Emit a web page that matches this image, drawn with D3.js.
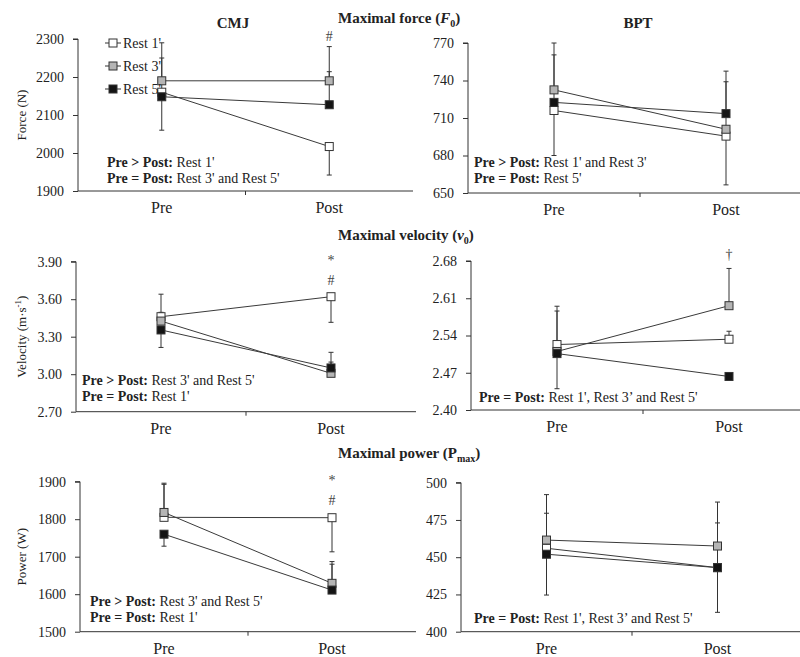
<!doctype html>
<html>
  <head>
    <meta charset="utf-8">
    <title>Force, velocity and power – CMJ and BPT</title>
    <script src="https://cdnjs.cloudflare.com/ajax/libs/d3/7.8.5/d3.min.js"></script>
    <style>
      body { margin: 0; background: #fff; }
      svg text { font-family: "Liberation Serif", "Times New Roman", serif; fill: #222; }
    </style>
  </head>
  <body>
    <div id="chart"></div>
    <script>
      // == data ==
      const phases = ["Pre", "Post"];
      const groups = ["Rest 1'", "Rest 3'", "Rest 5'"];

      // rows = Rest 1', Rest 3', Rest 5' ; columns = Pre, Post
      const forceCmj = [[2160, 2017], [2190, 2190], [2148, 2127]];
      const forceCmjErr = [[90, -75], [100, 90], [-88, 87]];   // sign = direction of the bar
      const forceBpt = [[716, 695.5], [732.5, 701], [722.5, 713.5]];
      const forceBptErr = [[-36, -39], [37.5, 38], [38, 34]];

      const velCmj = [[3.46, 3.62], [3.425, 3.007], [3.354, 3.05]];
      const velCmjErr = [[0.18, -0.205], [0.07, 0.09], [-0.14, 0.125]];
      const velBpt = [[2.523, 2.533], [2.51, 2.596], [2.506, 2.463]];
      const velBptErr = [[0.072, 0.015], [0.076, 0.07], [-0.066, -0.007]];

      const powCmj = [[1805, 1804], [1818, 1629], [1760, 1611]];
      const powCmjErr = [[88, -91], [78, 58], [-32, 69]];
      const powBpt = [[456, 443], [461.5, 457.5], [452, 443]];
      const powBptErr = [[23.5, 30], [30.5, 29.5], [-27.4, -30]];

      const forceCmjTicks = [1900, 2000, 2100, 2200, 2300];
      const forceBptTicks = [650, 680, 710, 740, 770];
      const velCmjTicks = [2.70, 3.00, 3.30, 3.60, 3.90];
      const velBptTicks = [2.40, 2.47, 2.54, 2.61, 2.68];
      const powCmjTicks = [1500, 1600, 1700, 1800, 1900];
      const powBptTicks = [400, 425, 450, 475, 500];

      const notesA = [["Pre > Post:", " Rest 1'"], ["Pre = Post:", " Rest 3' and Rest 5'"]];
      const notesB = [["Pre > Post:", " Rest 1' and Rest 3'"], ["Pre = Post:", " Rest 5'"]];
      const notesC = [["Pre > Post:", " Rest 3' and Rest 5'"], ["Pre = Post:", " Rest 1'"]];
      const notesD = [["Pre = Post:", " Rest 1', Rest 3\u2019 and Rest 5'"]];

      // significance symbols: [phase, symbol, value at baseline]
      const forceCmjSig = [["Post", "#", 2296]];
      const velCmjSig = [["Post", "*", 3.875], ["Post", "#", 3.71]];
      const velBptSig = [["Post", "\u2020", 2.684]];
      const powCmjSig = [["Post", "*", 1890], ["Post", "#", 1838]];

      // == drawing ==
      const fills = ["#ffffff", "#b5b5b5", "#141414"];
      const svg = d3.select("#chart").append("svg")
        .attr("width", 800).attr("height", 657);

      function panel(o) {
        const g = svg.append("g");
        const x = d3.scalePoint().domain(phases).range([o.x0, o.x1]).padding(0.5);
        const y = d3.scaleLinear().domain([o.ticks[0], o.ticks[o.ticks.length - 1]]).range([o.y0, o.y1]);

        // y axis
        const ya = g.append("g").attr("transform", `translate(${o.x0},0)`)
          .call(d3.axisLeft(y).tickValues(o.ticks).tickSize(5).tickPadding(9).tickFormat(o.fmt));
        ya.attr("font-family", null);
        ya.select(".domain").attr("stroke", "#333").attr("d", `M-5,${o.y1}H0V${o.y0}`);
        ya.selectAll(".tick line").attr("stroke", "#333");
        ya.selectAll(".tick text").style("font-size", "14px").attr("fill", "#222");

        // x axis: a line with a tick between the two phases
        g.append("line").attr("x1", o.x0).attr("x2", o.x1).attr("y1", o.y0).attr("y2", o.y0)
          .attr("stroke", "#333");
        g.append("line").attr("x1", (o.x0 + o.x1) / 2).attr("x2", (o.x0 + o.x1) / 2)
          .attr("y1", o.y0).attr("y2", o.y0 + 4).attr("stroke", "#333");
        g.selectAll(".cat").data(phases).join("text")
          .attr("x", d => x(d)).attr("y", o.y0 + 22)
          .attr("text-anchor", "middle").style("font-size", "16px").text(d => d);

        // error bars
        o.vals.forEach((row, si) => {
          row.forEach((v, pi) => {
            const e = o.err[si][pi];
            const px = x(phases[pi]);
            g.append("line").attr("x1", px).attr("x2", px)
              .attr("y1", y(v)).attr("y2", y(v + e)).attr("stroke", "#333");
            g.append("line").attr("x1", px - 2.5).attr("x2", px + 2.5)
              .attr("y1", y(v + e)).attr("y2", y(v + e)).attr("stroke", "#333");
          });
        });

        // lines
        const line = d3.line().x((d, i) => x(phases[i])).y(d => y(d));
        g.selectAll(".ln").data(o.vals).join("path")
          .attr("d", line).attr("fill", "none").attr("stroke", "#3a3a3a").attr("stroke-width", 1);

        // markers
        o.vals.forEach((row, si) => {
          g.selectAll(".m" + si).data(row).join("rect")
            .attr("x", (d, i) => x(phases[i]) - 4).attr("y", d => y(d) - 4)
            .attr("width", 8).attr("height", 8)
            .attr("fill", fills[si]).attr("stroke", "#333").attr("stroke-width", 1);
        });

        // notes
        o.notes.forEach((n, i) => {
          const t = g.append("text").attr("x", o.nx).attr("y", o.ny + i * 16).style("font-size", "14px");
          t.append("tspan").style("font-weight", "bold").text(n[0]);
          t.append("tspan").text(n[1]);
        });

        // significance
        (o.sig || []).forEach(s => {
          g.append("text").attr("x", x(s[0])).attr("y", y(s[2]))
            .attr("text-anchor", "middle").style("font-size", "14px").style("fill", "#444").text(s[1]);
        });

        // y label
        if (o.label) {
          const t = g.append("text")
            .attr("transform", `translate(26,${(o.y0 + o.y1) / 2}) rotate(-90)`)
            .attr("text-anchor", "middle").style("font-size", "13px");
          o.label(t);
        }
        return g;
      }

      const f0 = d => d3.format(".0f")(d);
      const f2 = d => d3.format(".2f")(d);

      panel({ x0: 78, x1: 413, y0: 191, y1: 39, ticks: forceCmjTicks, fmt: f0, vals: forceCmj, err: forceCmjErr,
        notes: notesA, nx: 107, ny: 167, sig: forceCmjSig, label: t => t.text("Force (N)") });
      panel({ x0: 468, x1: 812, y0: 193, y1: 43, ticks: forceBptTicks, fmt: f0, vals: forceBpt, err: forceBptErr,
        notes: notesB, nx: 474, ny: 167 });
      panel({ x0: 76, x1: 416, y0: 411.7, y1: 261.7, ticks: velCmjTicks, fmt: f2, vals: velCmj, err: velCmjErr,
        notes: notesC, nx: 82, ny: 385, sig: velCmjSig,
        label: t => {
          t.append("tspan").text("Velocity (m\u00b7s");
          t.append("tspan").attr("dy", -5).style("font-size", "9px").text("-1");
          t.append("tspan").attr("dy", 5).text(")");
        } });
      panel({ x0: 471, x1: 815, y0: 410, y1: 261, ticks: velBptTicks, fmt: f2, vals: velBpt, err: velBptErr,
        notes: notesD, nx: 479, ny: 401.7, sig: velBptSig });
      panel({ x0: 80, x1: 416, y0: 631.7, y1: 481.7, ticks: powCmjTicks, fmt: f0, vals: powCmj, err: powCmjErr,
        notes: notesC, nx: 90, ny: 606, sig: powCmjSig, label: t => t.text("Power (W)") });
      panel({ x0: 461, x1: 803, y0: 631.7, y1: 482.7, ticks: powBptTicks, fmt: f0, vals: powBpt, err: powBptErr,
        notes: notesD, nx: 474, ny: 622.7 });

      // titles
      const title = (x, y, anchor) => svg.append("text").attr("x", x).attr("y", y)
        .attr("text-anchor", anchor).style("font-size", "15px").style("font-weight", "bold");
      title(233, 28, "middle").text("CMJ");
      title(638, 28, "middle").text("BPT");

      const tf = title(338, 23, "start");
      tf.append("tspan").text("Maximal force (");
      tf.append("tspan").style("font-style", "italic").text("F");
      tf.append("tspan").attr("dy", 4).style("font-size", "10px").text("0");
      tf.append("tspan").attr("dy", -4).text(")");

      const tv = title(338, 240, "start");
      tv.append("tspan").text("Maximal velocity (");
      tv.append("tspan").style("font-style", "italic").text("v");
      tv.append("tspan").attr("dy", 4).style("font-size", "10px").text("0");
      tv.append("tspan").attr("dy", -4).text(")");

      const tp = title(338, 458, "start");
      tp.append("tspan").text("Maximal power (P");
      tp.append("tspan").attr("dy", 4).style("font-size", "10px").text("max");
      tp.append("tspan").attr("dy", -4).text(")");

      // legend
      const leg = svg.append("g");
      groups.forEach((name, i) => {
        const ly = 43 + i * 23;
        leg.append("line").attr("x1", 105).attr("x2", 121).attr("y1", ly).attr("y2", ly).attr("stroke", "#333");
        leg.append("rect").attr("x", 109).attr("y", ly - 4).attr("width", 8).attr("height", 8)
          .attr("fill", fills[i]).attr("stroke", "#333");
        leg.append("text").attr("x", 123).attr("y", ly + 5).style("font-size", "14px").text(name);
      });
    </script>
  </body>
</html>
